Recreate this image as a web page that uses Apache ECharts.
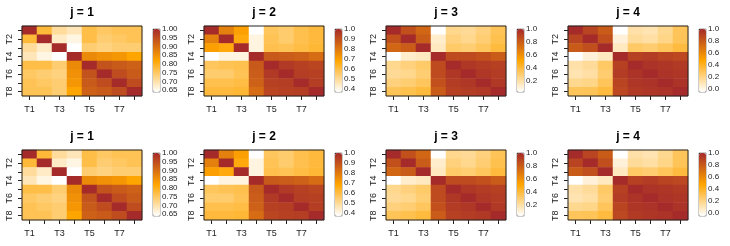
<!DOCTYPE html>
<html>
<head>
<meta charset="utf-8">
<script src="https://cdn.jsdelivr.net/npm/echarts@6/dist/echarts.min.js"></script>
<style>
  html, body { margin: 0; padding: 0; background: #fff; }
  #chart { width: 730px; height: 246px; }
</style>
</head>
<body>
<div id="chart"></div>
<script>
// categories
const tNames = ['T1', 'T2', 'T3', 'T4', 'T5', 'T6', 'T7', 'T8'];
const panelTitles = ['j = 1', 'j = 2', 'j = 3', 'j = 4'];

// matrices (row = y category, col = x category)
const corrJ1 = [
  [1.00, 0.78, 0.71, 0.69, 0.77, 0.75, 0.76, 0.76],
  [0.78, 1.00, 0.68, 0.66, 0.77, 0.74, 0.75, 0.76],
  [0.71, 0.68, 1.00, 0.64, 0.74, 0.73, 0.74, 0.74],
  [0.69, 0.66, 0.64, 1.00, 0.86, 0.85, 0.84, 0.82],
  [0.77, 0.77, 0.74, 0.86, 1.00, 0.94, 0.93, 0.92],
  [0.75, 0.74, 0.73, 0.85, 0.94, 1.00, 0.95, 0.93],
  [0.76, 0.75, 0.74, 0.84, 0.93, 0.95, 1.00, 0.95],
  [0.76, 0.76, 0.74, 0.82, 0.92, 0.93, 0.95, 1.00]
];
const corrJ2 = [
  [1.00, 0.78, 0.70, 0.37, 0.57, 0.55, 0.59, 0.61],
  [0.78, 1.00, 0.67, 0.41, 0.58, 0.55, 0.59, 0.61],
  [0.70, 0.67, 1.00, 0.41, 0.59, 0.58, 0.60, 0.62],
  [0.37, 0.41, 0.41, 1.00, 0.88, 0.87, 0.86, 0.83],
  [0.57, 0.58, 0.59, 0.88, 1.00, 0.96, 0.94, 0.93],
  [0.55, 0.55, 0.58, 0.87, 0.96, 1.00, 0.95, 0.94],
  [0.59, 0.59, 0.60, 0.86, 0.94, 0.95, 1.00, 0.95],
  [0.61, 0.61, 0.62, 0.83, 0.93, 0.94, 0.95, 1.00]
];
const corrJ3 = [
  [1.00, 0.85, 0.76, 0.02, 0.24, 0.22, 0.27, 0.34],
  [0.85, 1.00, 0.80, 0.12, 0.27, 0.24, 0.29, 0.36],
  [0.76, 0.80, 1.00, 0.14, 0.31, 0.29, 0.33, 0.39],
  [0.02, 0.12, 0.14, 1.00, 0.87, 0.87, 0.85, 0.80],
  [0.24, 0.27, 0.31, 0.87, 1.00, 0.95, 0.93, 0.91],
  [0.22, 0.24, 0.29, 0.87, 0.95, 1.00, 0.95, 0.93],
  [0.27, 0.29, 0.33, 0.85, 0.93, 0.95, 1.00, 0.94],
  [0.34, 0.36, 0.39, 0.80, 0.91, 0.93, 0.94, 1.00]
];
const corrJ4 = [
  [1.00, 0.89, 0.79, -0.06, 0.12, 0.10, 0.17, 0.28],
  [0.89, 1.00, 0.84, 0.02, 0.15, 0.13, 0.19, 0.29],
  [0.79, 0.84, 1.00, 0.07, 0.26, 0.24, 0.28, 0.34],
  [-0.06, 0.02, 0.07, 1.00, 0.90, 0.92, 0.89, 0.87],
  [0.12, 0.15, 0.26, 0.90, 1.00, 0.96, 0.95, 0.93],
  [0.10, 0.13, 0.24, 0.92, 0.96, 1.00, 0.96, 0.95],
  [0.17, 0.19, 0.28, 0.89, 0.95, 0.96, 1.00, 0.96],
  [0.28, 0.29, 0.34, 0.87, 0.93, 0.95, 0.96, 1.00]
];

// colour bar tick labels
const ticksJ1 = [0.65, 0.70, 0.75, 0.80, 0.85, 0.90, 0.95, 1.00];
const ticksJ2 = [0.4, 0.5, 0.6, 0.7, 0.8, 0.9, 1.0];
const ticksJ3 = [0.2, 0.4, 0.6, 0.8, 1.0];
const ticksJ4 = [0.0, 0.2, 0.4, 0.6, 0.8, 1.0];

const topRow = [corrJ1, corrJ2, corrJ3, corrJ4];
const bottomRow = [corrJ1, corrJ2, corrJ3, corrJ4];
const tickSets = [ticksJ1, ticksJ2, ticksJ3, ticksJ4];
const tickDigits = [2, 1, 1, 1];

const palette = ['#FFFFFF', '#FFA500', '#A52A2A'];
const font = '"Liberation Sans", Arial, Helvetica, sans-serif';

const colLeft = [22, 204, 386, 568];
const rowTop = [26, 150];
const heatW = 120, heatH = 70;

const chart = echarts.init(document.getElementById('chart'));

const grid = [], xAxis = [], yAxis = [], series = [], visualMap = [], graphic = [];

[topRow, bottomRow].forEach((mats, r) => {
  mats.forEach((mat, c) => {
    const left = colLeft[c], top = rowTop[r];
    const flat = [].concat(...mat);
    const lo = Math.min(...flat), hi = Math.max(...flat);
    const data = [];
    mat.forEach((row, yi) => row.forEach((v, xi) => data.push([xi, yi, v])));

    // heatmap grid
    const gi = grid.length;
    grid.push({
      left: left, top: top, width: heatW, height: heatH,
      show: true, z: 5, backgroundColor: 'transparent',
      borderColor: '#222', borderWidth: 1
    });
    xAxis.push({
      type: 'category', gridIndex: gi, data: tNames, position: 'bottom',
      axisLine: { show: false },
      axisTick: { show: true, alignWithLabel: true, interval: 0, length: 4, lineStyle: { color: '#222' } },
      axisLabel: { interval: (i) => i % 2 === 0, fontSize: 9, color: '#222', fontFamily: font, margin: 9 },
      splitLine: { show: false }
    });
    yAxis.push({
      type: 'category', gridIndex: gi, data: tNames, inverse: true,
      axisLine: { show: false },
      axisTick: { show: true, alignWithLabel: true, interval: 0, length: 4, lineStyle: { color: '#222' } },
      axisLabel: { interval: (i) => i % 2 === 1, rotate: 90, fontSize: 9, color: '#222', fontFamily: font, margin: 8 },
      splitLine: { show: false }
    });
    const si = series.length;
    series.push({
      type: 'heatmap', xAxisIndex: gi, yAxisIndex: gi, data: data,
      itemStyle: { borderWidth: 0 }, emphasis: { disabled: true }, progressive: 0
    });

    // colour bar
    const cbLeft = left + 131, cbTop = top + 3, cbW = 7, cbH = 63;
    const ci = grid.length;
    grid.push({
      left: cbLeft, top: cbTop, width: cbW, height: cbH,
      show: true, backgroundColor: 'transparent', borderColor: '#999', borderWidth: 1
    });
    xAxis.push({ type: 'value', gridIndex: ci, show: false });
    const ticks = tickSets[c], dig = tickDigits[c];
    yAxis.push({
      type: 'value', gridIndex: ci, position: 'right', min: lo, max: hi,
      axisLine: { show: false },
      splitLine: { show: false },
      axisTick: { show: true, length: 3, customValues: ticks, lineStyle: { color: '#222' } },
      axisLabel: {
        customValues: ticks, fontSize: 8, color: '#222', fontFamily: font, margin: 2,
        formatter: (v) => Number(v).toFixed(dig)
      }
    });
    visualMap.push({
      type: 'continuous', seriesIndex: si, min: lo, max: hi,
      left: cbLeft, top: cbTop, itemWidth: cbW, itemHeight: cbH,
      padding: 0, calculable: false, hoverLink: false,
      inRange: { color: palette }
    });

    graphic.push({
      type: 'text', x: left + heatW / 2, y: top - 13,
      style: {
        text: panelTitles[c], font: 'bold 12px ' + font,
        textAlign: 'center', textVerticalAlign: 'middle', fill: '#000'
      }
    });
  });
});

chart.setOption({
  animation: false,
  backgroundColor: '#fff',
  grid, xAxis, yAxis, series, visualMap, graphic
});
</script>
</body>
</html>
